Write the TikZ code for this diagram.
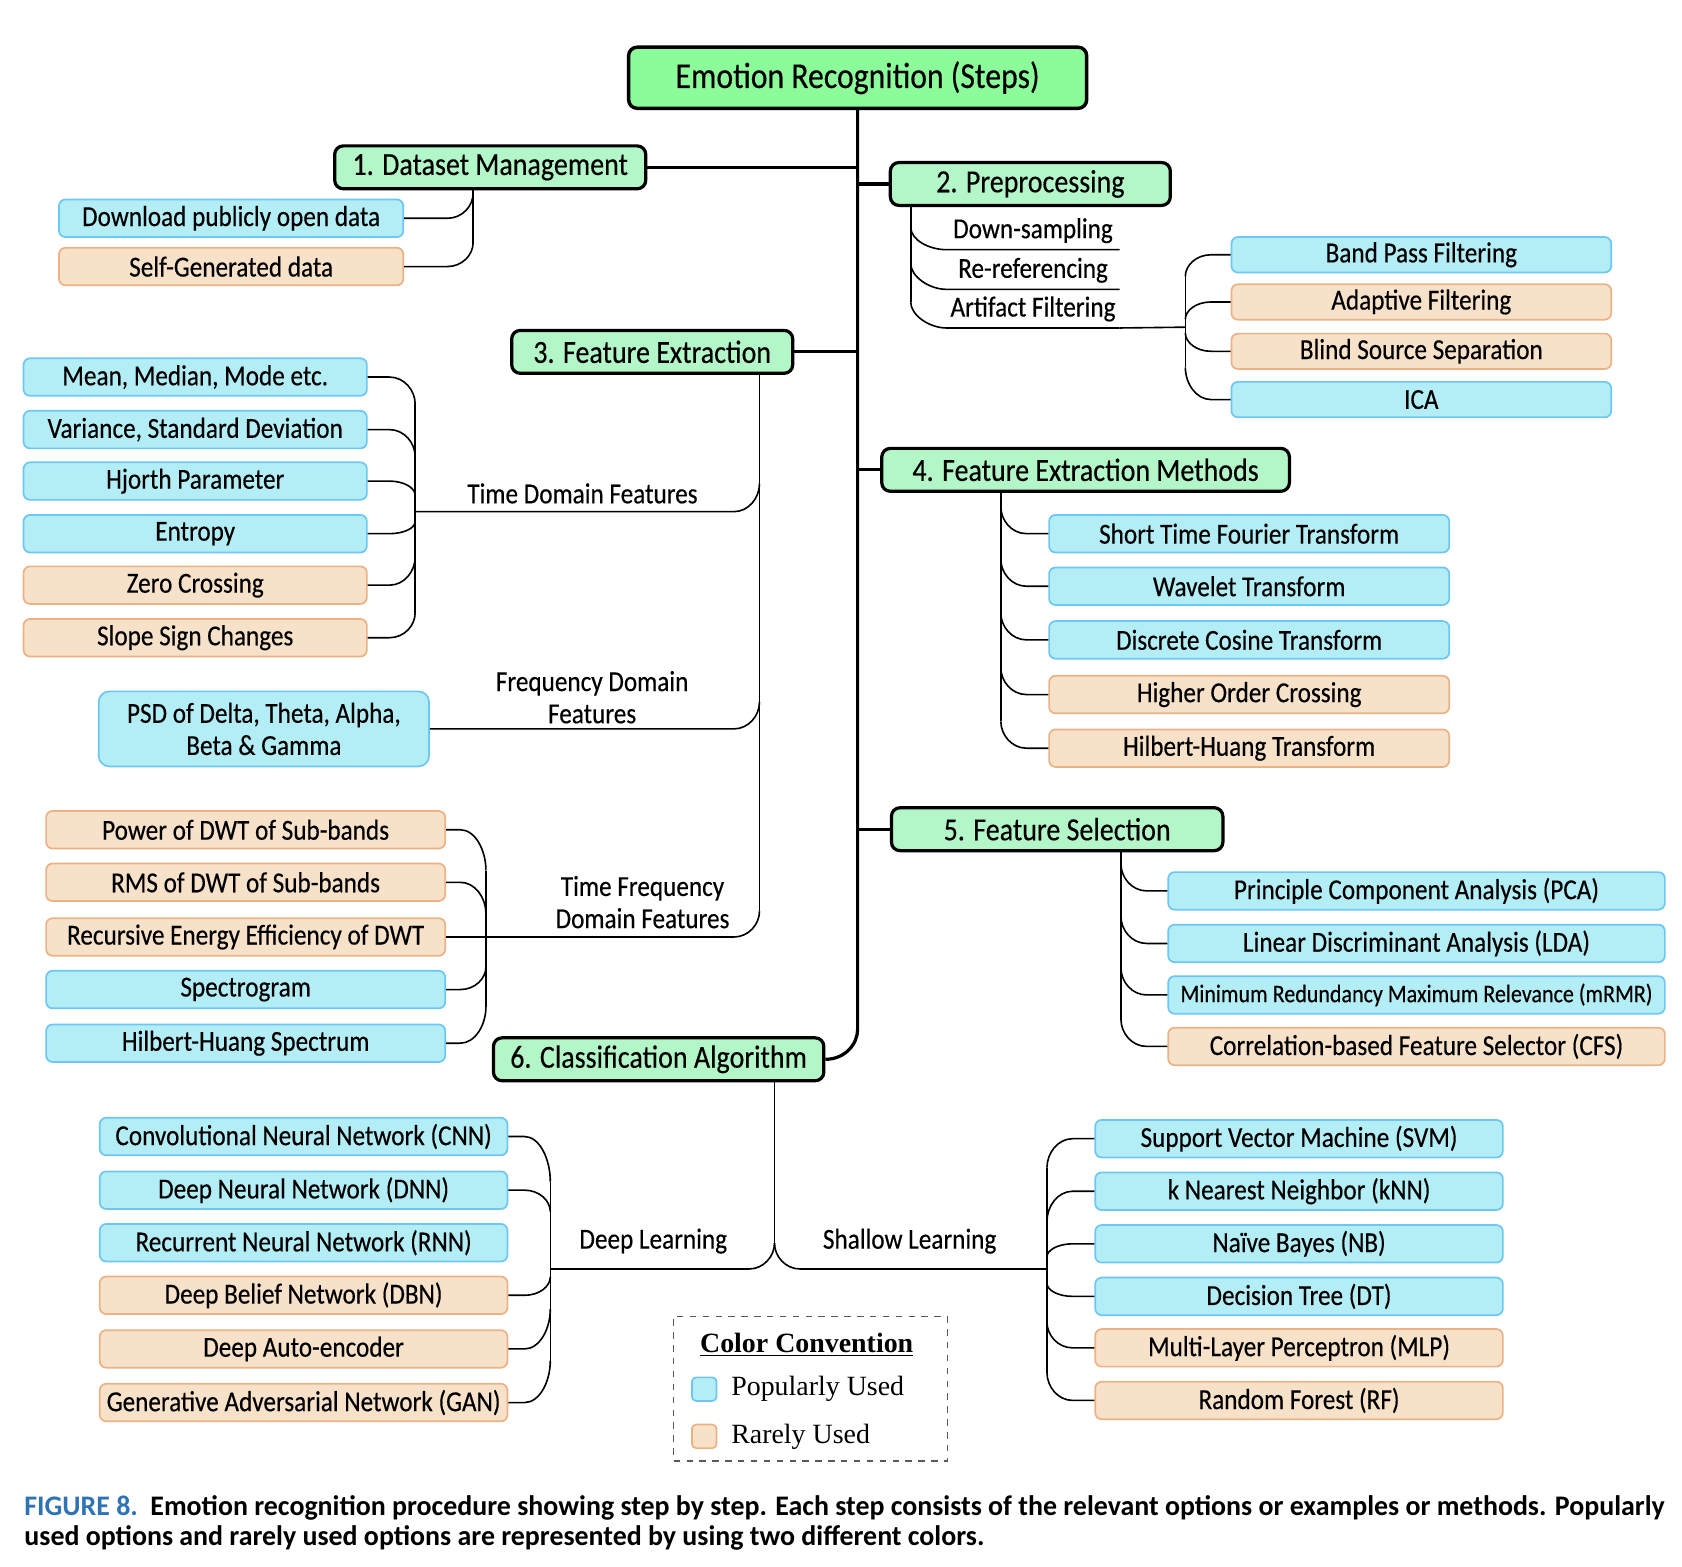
\documentclass[tikz,border=0pt]{standalone}
\usepackage{fontspec}
\setmainfont{Carlito}[FakeStretch=0.87,FakeBold=0.35]
\newfontfamily\legendfont{Liberation Serif}
\newfontfamily\captionfont{Carlito}[FakeStretch=0.985]
\usetikzlibrary{calc}

\definecolor{rootgreen}{HTML}{8CFB9A}
\definecolor{stepgreen}{HTML}{B3F6C8}
\definecolor{popfill}{HTML}{B3EEF7}
\definecolor{popdraw}{HTML}{6EC6F2}
\definecolor{rarefill}{HTML}{F7E1C9}
\definecolor{raredraw}{HTML}{EBB385}
\definecolor{capblue}{HTML}{2E74B5}

\newcommand\leaffont{\fontsize{13.5}{15}\selectfont}
% leaf left of its spine: anchor, spine, vertical offset
\newcommand\lcon[3]{\draw[conn] (#1) -- ($(#2 |- #1)+(-24,0)$) .. controls +(14,0) and +(0,{-0.5*(#3)}) .. ($(#2 |- #1)+(0,#3)$);}
% leaf right of its spine
\newcommand\rcon[3]{\draw[conn] (#1) -- ($(#2 |- #1)+(24,0)$) .. controls +(-14,0) and +(0,{-0.5*(#3)}) .. ($(#2 |- #1)+(0,#3)$);}

\tikzset{every picture/.style={line width=0.75pt}}

\begin{document}
\begin{tikzpicture}[x=0.5pt,y=-0.5pt,
  rootbox/.style={draw,line width=1.6pt,fill=rootgreen,rounded corners=4pt,minimum width=213.5pt,minimum height=28.5pt,inner sep=2pt,font=\fontsize{17}{20}\selectfont},
  stepbox/.style={draw,line width=1.5pt,fill=stepgreen,rounded corners=4pt,minimum height=20pt,inner sep=2pt,font=\fontsize{15}{18}\selectfont},
  pop/.style={draw=popdraw,line width=0.8pt,fill=popfill,rounded corners=3pt,minimum height=17.5pt,inner sep=2pt,font=\leaffont},
  rare/.style={pop,draw=raredraw,fill=rarefill},
  lbl/.style={inner sep=1pt,align=center,font=\leaffont},
  subitem/.style={inner sep=0pt,minimum width=80pt,minimum height=17pt,font=\leaffont},
  conn/.style={line width=0.75pt},
  trunk/.style={line width=1.5pt},
  legtext/.style={anchor=west,inner sep=0pt,font=\legendfont\fontsize{13}{15}\selectfont}]
\useasboundingbox (0,0) rectangle (1568,1460);

% Steps
\node[rootbox] (root) at (799.5,72.5) {Emotion Recognition (Steps)};
\node[stepbox,minimum width=145pt] (dsm) at (457,156) {1. Dataset Management};
\node[stepbox,minimum width=130.5pt] (pre) at (960.5,171.5) {2. Preprocessing};
\node[stepbox,minimum width=131pt] (fex) at (608,328) {3. Feature Extraction};
\node[stepbox,minimum width=190pt] (fem) at (1012,438) {4. Feature Extraction Methods};
\node[stepbox,minimum width=154.5pt] (fsel) at (985.5,773) {5. Feature Selection};
\node[stepbox,minimum width=154pt] (cla) at (614,987.5) {6. Classification Algorithm};

% Dataset management
\node[pop,minimum width=160.5pt] (dl) at (215.5,203.5) {Download publicly open data};
\node[rare,minimum width=160.5pt] (sg) at (215.5,248.5) {Self-Generated data};

% Preprocessing
\node[subitem] (ds) at (963,215) {Down-sampling};
\node[subitem] (rr) at (963,252) {Re-referencing};
\node[subitem] (af) at (963,288) {Artifact Filtering};
\node[pop,minimum width=177pt,minimum height=16.5pt] (bpf) at (1325,237.5) {Band Pass Filtering};
\node[rare,minimum width=177pt,minimum height=16.5pt] (adf) at (1325,281.5) {Adaptive Filtering};
\node[rare,minimum width=177pt,minimum height=16.5pt] (bss) at (1325,327.5) {Blind Source Separation};
\node[pop,minimum width=177pt,minimum height=16.5pt] (ica) at (1325,372.5) {ICA};

% Feature extraction
\node[pop,minimum width=160pt] (mmm) at (182,351.5) {Mean, Median, Mode etc.};
\node[pop,minimum width=160pt] (vsd) at (182,400.5) {Variance, Standard Deviation};
\node[pop,minimum width=160pt] (hjp) at (182,448.5) {Hjorth Parameter};
\node[pop,minimum width=160pt] (ent) at (182,497.5) {Entropy};
\node[rare,minimum width=160pt] (zcr) at (182,545.5) {Zero Crossing};
\node[rare,minimum width=160pt] (ssc) at (182,594.5) {Slope Sign Changes};
\node[pop,minimum width=154pt,minimum height=35pt,rounded corners=5pt,align=center] (psd) at (246,679.5) {PSD of Delta, Theta, Alpha,\\Beta \& Gamma};
\node[rare,minimum width=186pt] (pdw) at (229,773.5) {Power of DWT of Sub-bands};
\node[rare,minimum width=186pt] (rdw) at (229,822.5) {RMS of DWT of Sub-bands};
\node[rare,minimum width=186pt] (ree) at (229,873.5) {Recursive Energy Efficiency of DWT};
\node[pop,minimum width=186pt] (spg) at (229,922.5) {Spectrogram};
\node[pop,minimum width=186pt] (hhs) at (229,972.5) {Hilbert-Huang Spectrum};
% Text Node
\node[lbl] (tdl) at (543,460) {Time Domain Features};
\node[lbl] (fdl) at (552,650) {Frequency Domain\\Features};
\node[lbl] (tfl) at (599,841) {Time Frequency\\Domain Features};

% Feature extraction methods
\node[pop,minimum width=186.5pt] (stft) at (1164.5,497.5) {Short Time Fourier Transform};
\node[pop,minimum width=186.5pt] (wvt) at (1164.5,546.5) {Wavelet Transform};
\node[pop,minimum width=186.5pt] (dct) at (1164.5,596.5) {Discrete Cosine Transform};
\node[rare,minimum width=186.5pt] (hoc) at (1164.5,647.5) {Higher Order Crossing};
\node[rare,minimum width=186.5pt] (hht) at (1164.5,697.5) {Hilbert-Huang Transform};

% Feature selection
\node[pop,minimum width=231.5pt] (pca) at (1320.5,830.5) {Principle Component Analysis (PCA)};
\node[pop,minimum width=231.5pt] (lda) at (1320.5,879.5) {Linear Discriminant Analysis (LDA)};
\node[pop,minimum width=231.5pt,font=\fontsize{11.8}{14}\selectfont] (mrmr) at (1320.5,927.5) {Minimum Redundancy Maximum Relevance (mRMR)};
\node[rare,minimum width=231.5pt] (cfs) at (1320.5,975.5) {Correlation-based Feature Selector (CFS)};

% Classification
\node[pop,minimum width=190pt] (cnn) at (283,1059.5) {Convolutional Neural Network (CNN)};
\node[pop,minimum width=190pt] (dnn) at (283,1109.5) {Deep Neural Network (DNN)};
\node[pop,minimum width=190pt] (rnn) at (283,1158.5) {Recurrent Neural Network (RNN)};
\node[rare,minimum width=190pt] (dbn) at (283,1207.5) {Deep Belief Network (DBN)};
\node[rare,minimum width=190pt] (dae) at (283,1257.5) {Deep Auto-encoder};
\node[rare,minimum width=190pt] (gan) at (283,1307.5) {Generative Adversarial Network (GAN)};
\node[pop,minimum width=190pt] (svm) at (1211,1061.5) {Support Vector Machine (SVM)};
\node[pop,minimum width=190pt] (knn) at (1211,1110.5) {k Nearest Neighbor (kNN)};
\node[pop,minimum width=190pt] (nb) at (1211,1159.5) {Naïve Bayes (NB)};
\node[pop,minimum width=190pt] (dt) at (1211,1208.5) {Decision Tree (DT)};
\node[rare,minimum width=190pt] (mlp) at (1211,1256.5) {Multi-Layer Perceptron (MLP)};
\node[rare,minimum width=190pt] (rf) at (1211,1305.5) {Random Forest (RF)};
% Text Node
\node[lbl] (dll) at (609,1157) {Deep Learning};
\node[lbl] (sll) at (848,1157) {Shallow Learning};

% spine points
\coordinate (dssp) at (441,176);
\coordinate (ppsp) at (849,191);
\coordinate (prsp) at (1105,305);
\coordinate (fesp) at (708,348);
\coordinate (tdsp) at (387,477);
\coordinate (tfsp) at (453,873.5);
\coordinate (fmsp) at (933,458);
\coordinate (fssp) at (1045,793);
\coordinate (casp) at (722,1007);
\coordinate (dlsp) at (513,1183);
\coordinate (slsp) at (976,1183);

%Straight Lines: trunk and steps
\draw[trunk] (root.south) -- ($(root.south |- cla.east)+(0,-28)$) .. controls +(0,14) and +(18,0) .. (cla.east);
\draw[trunk] (dsm.east) -- (root.south |- dsm.east);
\draw[trunk] (root.south |- pre.west) -- (pre.west);
\draw[trunk] (fex.east) -- (root.south |- fex.east);
\draw[trunk] (root.south |- fem.west) -- (fem.west);
\draw[trunk] (root.south |- fsel.west) -- (fsel.west);

%Curve Lines: dataset management
\draw[conn] (dssp) -- ($(dssp |- sg.east)+(0,-22)$);
\lcon{dl.east}{dssp}{-23}
\lcon{sg.east}{dssp}{-22}

%Curve Lines: preprocessing
\draw[conn] (ppsp) -- ($(ppsp |- af.south west)+(0,-24)$);
\draw[conn] ($(ppsp |- ds.south west)+(0,-21)$) .. controls +(0,12) and +(-16,0) .. (ds.south west) -- (ds.south east);
\draw[conn] ($(ppsp |- rr.south west)+(0,-24)$) .. controls +(0,12) and +(-16,0) .. (rr.south west) -- (rr.south east);
\draw[conn] ($(ppsp |- af.south west)+(0,-24)$) .. controls +(0,12) and +(-16,0) .. (af.south west) -- (af.south east);
\draw[conn] (af.south east) -- (prsp);
\draw[conn] ($(prsp |- bpf.west)+(0,20)$) -- ($(prsp |- ica.west)+(0,-30)$);
\rcon{bpf.west}{prsp}{20}
\rcon{adf.west}{prsp}{16}
\rcon{bss.west}{prsp}{-17}
\rcon{ica.west}{prsp}{-30}

%Curve Lines: feature extraction
\draw[conn] (fesp) -- ($(fesp |- ree.east)+(0,-24)$);
\lcon{tdsp}{fesp}{-26}
\lcon{psd.east}{fesp}{-25}
\lcon{ree.east}{fesp}{-24}
\draw[conn] ($(tdsp |- mmm.east)+(0,25)$) -- ($(tdsp |- ssc.east)+(0,-23)$);
\lcon{mmm.east}{tdsp}{25}
\lcon{vsd.east}{tdsp}{25}
\lcon{hjp.east}{tdsp}{13}
\lcon{ent.east}{tdsp}{-11}
\lcon{zcr.east}{tdsp}{-26}
\lcon{ssc.east}{tdsp}{-23}
\draw[conn] ($(tfsp |- pdw.east)+(0,38)$) -- ($(tfsp |- hhs.east)+(0,-34)$);
\lcon{pdw.east}{tfsp}{38}
\lcon{rdw.east}{tfsp}{29}
\lcon{spg.east}{tfsp}{-21}
\lcon{hhs.east}{tfsp}{-34}

%Curve Lines: feature extraction methods
\draw[conn] (fmsp) -- ($(fmsp |- hht.west)+(0,-25)$);
\rcon{stft.west}{fmsp}{-25}
\rcon{wvt.west}{fmsp}{-25}
\rcon{dct.west}{fmsp}{-25}
\rcon{hoc.west}{fmsp}{-25}
\rcon{hht.west}{fmsp}{-25}

%Curve Lines: feature selection
\draw[conn] (fssp) -- ($(fssp |- cfs.west)+(0,-25)$);
\rcon{pca.west}{fssp}{-25}
\rcon{lda.west}{fssp}{-25}
\rcon{mrmr.west}{fssp}{-25}
\rcon{cfs.west}{fssp}{-25}

%Curve Lines: classification
\draw[conn] (casp) -- ($(casp |- dlsp)+(0,-24)$);
\lcon{dlsp}{casp}{-24}
\rcon{slsp}{casp}{-24}
\draw[conn] ($(dlsp |- cnn.east)+(0,42)$) -- ($(dlsp |- gan.east)+(0,-39)$);
\lcon{cnn.east}{dlsp}{42}
\lcon{dnn.east}{dlsp}{20}
\lcon{dbn.east}{dlsp}{-17}
\lcon{dae.east}{dlsp}{-37}
\lcon{gan.east}{dlsp}{-39}
\draw[conn] ($(slsp |- svm.west)+(0,27)$) -- ($(slsp |- rf.west)+(0,-26)$);
\rcon{svm.west}{slsp}{27}
\rcon{knn.west}{slsp}{28}
\rcon{nb.west}{slsp}{12}
\rcon{dt.west}{slsp}{-12}
\rcon{mlp.west}{slsp}{-24}
\rcon{rf.west}{slsp}{-26}

% Legend
\node[draw=black!65,dashed,line width=0.6pt,minimum width=127.5pt,minimum height=67.5pt] (leg) at (755.5,1294.5) {};
\node[inner sep=0pt,font=\legendfont\bfseries\fontsize{13}{15}\selectfont] (legt) at (752,1254) {\underline{Color Convention}};
\node[pop,minimum width=11.5pt,minimum height=11pt,rounded corners=2pt] (legp) at (656.5,1295) {};
\node[legtext] (legpt) at (681,1295) {Popularly Used};
\node[rare,minimum width=11.5pt,minimum height=11pt,rounded corners=2pt] (legr) at (656.5,1339) {};
\node[legtext] (legrt) at (681,1339) {Rarely Used};

% Caption
\node[anchor=north west,inner sep=0pt,align=left,font=\captionfont\bfseries\fontsize{13.2}{14}\selectfont] (cap) at (22,1393) {\textcolor{capblue}{FIGURE 8.}\ \ Emotion recognition procedure showing step by step. Each step consists of the relevant options or examples or methods. Popularly\\used options and rarely used options are represented by using two different colors.};

\end{tikzpicture}
\end{document}
